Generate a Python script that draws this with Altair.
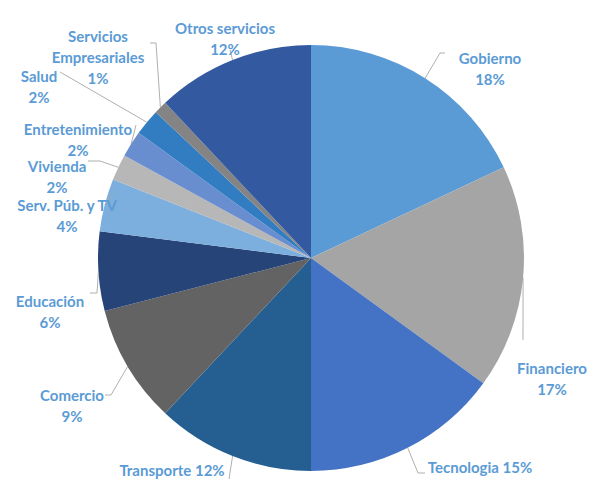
import math
import altair as alt
import pandas as pd

# ---- data ----
categories = ["Gobierno", "Financiero", "Tecnologia", "Transporte", "Comercio",
              "Educación", "Serv. Púb. y TV", "Vivienda", "Entretenimiento",
              "Salud", "Servicios Empresariales", "Otros servicios"]
values = [18, 17, 15, 12, 9, 6, 4, 2, 2, 2, 1, 12]
label_texts = ["Gobierno\n18%", "Financiero\n17%", "Tecnologia 15%", "Transporte  12%",
               "Comercio\n9%", "Educación\n6%", "Serv. Púb. y TV\n4%", "Vivienda\n2%",
               "Entretenimiento\n2%", "Salud\n2%", "Servicios\nEmpresariales\n1%",
               "Otros servicios\n12%"]
colors = ["#5B9BD5", "#A5A5A5", "#4472C4", "#255E91", "#636363", "#264478",
          "#7CAFDD", "#B7B7B7", "#698ED0", "#327DC2", "#848484", "#335AA1"]

# ---- layout (pixels) ----
W, H = 581, 472
CX, CY, R = 303, 250, 213
# label centre offsets from pie centre
label_off = [(179, -199), (241, 111), (169, 210), (-139, 213), (-239, 138), (-261, 44),
             (-244, -52), (-254, -91), (-233, -128), (-272, -181), (-213, -221), (-86, -229)]
# leader line points relative to label centre
leader_pts = [[(-50, -6), (-45, -6)], [(-29, -29)], [(-62, 5), (-55, 5)], [(57, 8)],
              [(39, -1), (33, -1)], [(47, -9), (40, -9)], [(46, -13)], [(43, -6), (31, -6)],
              [(58, -5)], [(21, -5)], [(58, 6), (52, 6)], [(5, 21)]]

total = sum(values)
pie_df = pd.DataFrame({"cat": categories, "value": values, "idx": list(range(len(values)))})

lab_rows, line_rows = [], []
cum = 0
for i, (c, v) in enumerate(zip(categories, values)):
    mid = (cum + v / 2) / total * 2 * math.pi
    cum += v
    lx, ly = CX + label_off[i][0], CY + label_off[i][1]
    lab_rows.append({"cat": c, "txt": label_texts[i], "x": lx, "y": ly})
    ex, ey = CX + R * math.sin(mid), CY - R * math.cos(mid)
    line_rows.append({"cat": c, "seq": 0, "x": ex, "y": ey})
    for j, (dx, dy) in enumerate(leader_pts[i]):
        line_rows.append({"cat": c, "seq": j + 1, "x": lx + dx, "y": ly + dy})

lab_df = pd.DataFrame(lab_rows)
line_df = pd.DataFrame(line_rows)

pie = alt.Chart(pie_df).mark_arc(radius=R, stroke=None).encode(
    theta=alt.Theta("value:Q", stack=True),
    order=alt.Order("idx:Q"),
    color=alt.Color("cat:N", scale=alt.Scale(domain=categories, range=colors), legend=None),
    x=alt.value(CX), y=alt.value(CY),
)

leaders = alt.Chart(line_df).mark_line(color="#A6A6A6", strokeWidth=0.9).encode(
    x=alt.X("x:Q", scale=None, axis=None),
    y=alt.Y("y:Q", scale=None, axis=None),
    detail="cat:N",
    order="seq:Q",
)

labels = alt.Chart(lab_df).mark_text(
    font="Lato", fontSize=15, fontWeight="bold", color="#5B9BD5",
    align="center", baseline="middle", lineBreak="\n", lineHeight=21,
).encode(
    x=alt.X("x:Q", scale=None, axis=None),
    y=alt.Y("y:Q", scale=None, axis=None),
    text="txt:N",
)

chart = alt.layer(pie, leaders, labels).properties(
    width=W, height=H, padding=0, autosize=alt.AutoSizeParams(type="none")
).configure_view(stroke=None)

chart.save("out.html", embed_options={"renderer": "svg", "actions": False})
